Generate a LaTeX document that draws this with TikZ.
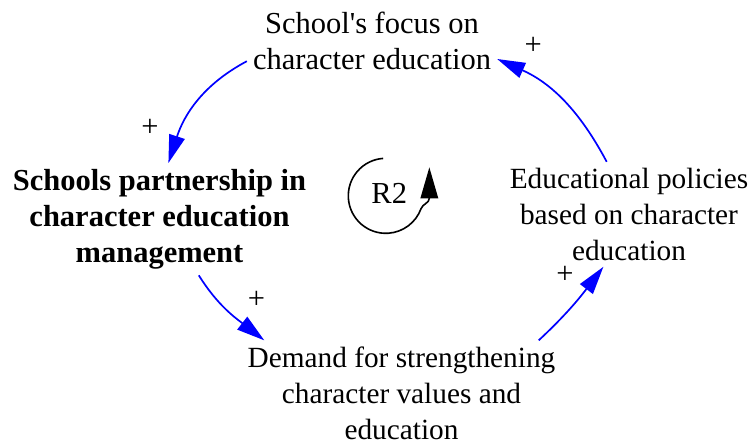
\documentclass[tikz,border=0pt]{standalone}
\usepackage{fontspec}
\setmainfont{Liberation Serif}
\usetikzlibrary{arrows.meta}

\tikzset{
  var/.style={align=center, inner sep=6pt, font=\fontsize{30.5}{36}\selectfont},
  varNarrow/.style={var, font=\fontsize{29.3}{36}\selectfont},
  varBold/.style={var, font=\fontsize{30.5}{36}\selectfont\bfseries},
  link/.style={draw=blue, line width=1.7pt, -{Triangle[length=28pt, width=16pt]}},
  sign/.style={inner sep=0pt, font=\fontsize{30.5}{36}\selectfont},
  loopline/.style={line width=1.6pt, -{Triangle[length=31pt, width=17.5pt]}}
}

\begin{document}
\begin{tikzpicture}[x=1pt, y=1pt]

  \useasboundingbox (0,0) rectangle (750,-445);

  % Variables
  \node[var] (schoolFocus) at (372,-41.4) {School\textquotesingle s focus on\\character education};
  \node[varBold] (partnership) at (159.5,-219.2) {Schools partnership in\\character education\\management};
  \node[varNarrow] (policies) at (629,-214.3) {Educational policies\\based on character\\education};
  \node[varNarrow] (demand) at (401.5,-393) {Demand for strengthening\\character values and\\education};

  % Loop label
  \node[var, inner sep=0pt] (loopR) at (389.2,-193) {R2};
  \coordinate (loopC) at (385.8,-195.8);
  \draw[loopline] (loopC) ++(94:37.5)
  arc[start angle=94, end angle=340, radius=37.5]
  to[out=70, in=-90] ++(8.3,10.6)
  -- ++(0,30.7);

  % LINKS
  \draw[link] (schoolFocus.189)
  to[out=208, in=72]
  node[sign, pos=1, xshift=-18.3pt, yshift=35pt] (plusA) {+}
  (partnership.81);

  \draw[link] (partnership.305)
  to[out=302, in=142]
  node[sign, pos=1, xshift=-7.7pt, yshift=40pt] (plusB) {+}
  (demand.159);

  \draw[link] (demand.21)
  to[out=43, in=232.6]
  node[sign, pos=1, xshift=-38.3pt, yshift=-8.3pt] (plusC) {+}
  (policies.244);

  \draw[link] (policies.113)
  to[out=118, in=336]
  node[sign, pos=1, xshift=36pt, yshift=13.3pt] (plusD) {+}
  (schoolFocus.352);

\end{tikzpicture}
\end{document}
